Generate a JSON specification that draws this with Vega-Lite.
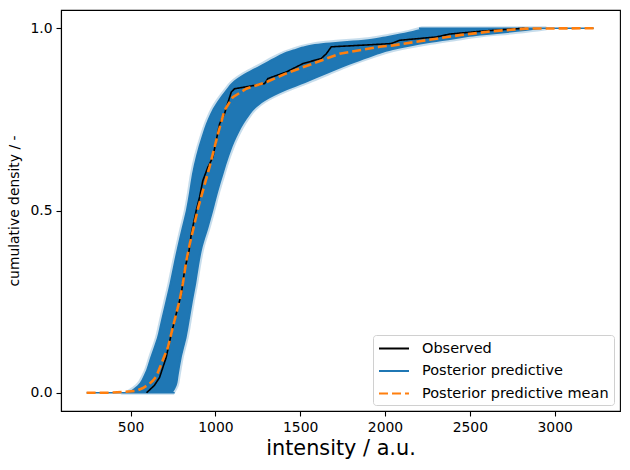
{
  "$schema": "https://vega.github.io/schema/vega-lite/v6.json",
  "width": 559,
  "height": 401,
  "autosize": {"type": "none"},
  "padding": {"left": 61, "top": 10, "right": 10, "bottom": 59},
  "background": "white",
  "config": {
    "font": "DejaVu Sans",
    "view": {"stroke": "black", "strokeWidth": 1.1},
    "axis": {
      "labelFont": "DejaVu Sans", "labelFontSize": 13.9, "labelColor": "black",
      "titleFont": "DejaVu Sans", "titleColor": "black", "titleFontWeight": "normal",
      "domainColor": "black", "tickColor": "black", "tickSize": 5, "labelPadding": 4,
      "grid": false, "domainWidth": 1.1, "tickWidth": 1.1
    },
    "legend": {"labelFont": "DejaVu Sans"}
  },
  "datasets": {
    "band": [
      {"p": 0, "lo": 480, "hi": 749},
      {"p": 0.02, "lo": 540, "hi": 772},
      {"p": 0.05, "lo": 580, "hi": 784},
      {"p": 0.1, "lo": 618, "hi": 803},
      {"p": 0.15, "lo": 655, "hi": 830},
      {"p": 0.2, "lo": 680, "hi": 849},
      {"p": 0.25, "lo": 705, "hi": 867},
      {"p": 0.3, "lo": 730, "hi": 887},
      {"p": 0.35, "lo": 752, "hi": 904},
      {"p": 0.4, "lo": 775, "hi": 925},
      {"p": 0.45, "lo": 800, "hi": 958},
      {"p": 0.5, "lo": 826, "hi": 988},
      {"p": 0.55, "lo": 845, "hi": 1016},
      {"p": 0.6, "lo": 862, "hi": 1048},
      {"p": 0.65, "lo": 886, "hi": 1082},
      {"p": 0.7, "lo": 917, "hi": 1125},
      {"p": 0.75, "lo": 955, "hi": 1185},
      {"p": 0.78, "lo": 985, "hi": 1235},
      {"p": 0.8, "lo": 1012, "hi": 1290},
      {"p": 0.83, "lo": 1060, "hi": 1420},
      {"p": 0.85, "lo": 1095, "hi": 1530},
      {"p": 0.875, "lo": 1170, "hi": 1660},
      {"p": 0.9, "lo": 1270, "hi": 1790},
      {"p": 0.92, "lo": 1350, "hi": 1909},
      {"p": 0.94, "lo": 1450, "hi": 2047},
      {"p": 0.96, "lo": 1650, "hi": 2270},
      {"p": 0.97, "lo": 1900, "hi": 2410},
      {"p": 0.98, "lo": 2030, "hi": 2560},
      {"p": 0.99, "lo": 2140, "hi": 2780},
      {"p": 1.0, "lo": 2220, "hi": 2951}
    ],
    "lines": [
      {"series": "Posterior predictive", "seg": "a", "x": 241, "p": 0},
      {"series": "Posterior predictive", "seg": "a", "x": 760, "p": 0},
      {"series": "Posterior predictive", "seg": "b", "x": 2200, "p": 1},
      {"series": "Posterior predictive", "seg": "b", "x": 3230, "p": 1},
      {"series": "Observed", "seg": "o", "x": 594, "p": 0},
      {"series": "Observed", "seg": "o", "x": 640, "p": 0.02},
      {"series": "Observed", "seg": "o", "x": 671, "p": 0.042},
      {"series": "Observed", "seg": "o", "x": 710, "p": 0.097},
      {"series": "Observed", "seg": "o", "x": 740, "p": 0.161},
      {"series": "Observed", "seg": "o", "x": 769, "p": 0.216},
      {"series": "Observed", "seg": "o", "x": 799, "p": 0.271},
      {"series": "Observed", "seg": "o", "x": 818, "p": 0.335},
      {"series": "Observed", "seg": "o", "x": 845, "p": 0.39},
      {"series": "Observed", "seg": "o", "x": 858, "p": 0.436},
      {"series": "Observed", "seg": "o", "x": 887, "p": 0.5},
      {"series": "Observed", "seg": "o", "x": 907, "p": 0.537},
      {"series": "Observed", "seg": "o", "x": 926, "p": 0.582},
      {"series": "Observed", "seg": "o", "x": 956, "p": 0.619},
      {"series": "Observed", "seg": "o", "x": 985, "p": 0.646},
      {"series": "Observed", "seg": "o", "x": 1005, "p": 0.692},
      {"series": "Observed", "seg": "o", "x": 1025, "p": 0.738},
      {"series": "Observed", "seg": "o", "x": 1054, "p": 0.766},
      {"series": "Observed", "seg": "o", "x": 1078, "p": 0.802},
      {"series": "Observed", "seg": "o", "x": 1094, "p": 0.825},
      {"series": "Observed", "seg": "o", "x": 1113, "p": 0.834},
      {"series": "Observed", "seg": "o", "x": 1290, "p": 0.848},
      {"series": "Observed", "seg": "o", "x": 1310, "p": 0.862},
      {"series": "Observed", "seg": "o", "x": 1418, "p": 0.88},
      {"series": "Observed", "seg": "o", "x": 1516, "p": 0.903},
      {"series": "Observed", "seg": "o", "x": 1624, "p": 0.917},
      {"series": "Observed", "seg": "o", "x": 1654, "p": 0.93},
      {"series": "Observed", "seg": "o", "x": 1683, "p": 0.949},
      {"series": "Observed", "seg": "o", "x": 1968, "p": 0.956},
      {"series": "Observed", "seg": "o", "x": 2037, "p": 0.958},
      {"series": "Observed", "seg": "o", "x": 2086, "p": 0.967},
      {"series": "Observed", "seg": "o", "x": 2302, "p": 0.976},
      {"series": "Observed", "seg": "o", "x": 2381, "p": 0.984},
      {"series": "Observed", "seg": "o", "x": 2597, "p": 0.993},
      {"series": "Observed", "seg": "o", "x": 2823, "p": 1.0},
      {"series": "Posterior predictive mean", "seg": "m", "x": 241, "p": 0},
      {"series": "Posterior predictive mean", "seg": "m", "x": 376, "p": 0.0},
      {"series": "Posterior predictive mean", "seg": "m", "x": 534, "p": 0.005},
      {"series": "Posterior predictive mean", "seg": "m", "x": 573, "p": 0.013},
      {"series": "Posterior predictive mean", "seg": "m", "x": 605, "p": 0.022},
      {"series": "Posterior predictive mean", "seg": "m", "x": 631, "p": 0.033},
      {"series": "Posterior predictive mean", "seg": "m", "x": 652, "p": 0.045},
      {"series": "Posterior predictive mean", "seg": "m", "x": 681, "p": 0.079},
      {"series": "Posterior predictive mean", "seg": "m", "x": 720, "p": 0.124},
      {"series": "Posterior predictive mean", "seg": "m", "x": 759, "p": 0.198},
      {"series": "Posterior predictive mean", "seg": "m", "x": 789, "p": 0.253},
      {"series": "Posterior predictive mean", "seg": "m", "x": 808, "p": 0.299},
      {"series": "Posterior predictive mean", "seg": "m", "x": 828, "p": 0.36},
      {"series": "Posterior predictive mean", "seg": "m", "x": 850, "p": 0.41},
      {"series": "Posterior predictive mean", "seg": "m", "x": 875, "p": 0.46},
      {"series": "Posterior predictive mean", "seg": "m", "x": 900, "p": 0.51},
      {"series": "Posterior predictive mean", "seg": "m", "x": 930, "p": 0.56},
      {"series": "Posterior predictive mean", "seg": "m", "x": 966, "p": 0.62},
      {"series": "Posterior predictive mean", "seg": "m", "x": 1015, "p": 0.71},
      {"series": "Posterior predictive mean", "seg": "m", "x": 1054, "p": 0.775},
      {"series": "Posterior predictive mean", "seg": "m", "x": 1103, "p": 0.811},
      {"series": "Posterior predictive mean", "seg": "m", "x": 1182, "p": 0.834},
      {"series": "Posterior predictive mean", "seg": "m", "x": 1300, "p": 0.852},
      {"series": "Posterior predictive mean", "seg": "m", "x": 1418, "p": 0.876},
      {"series": "Posterior predictive mean", "seg": "m", "x": 1575, "p": 0.903},
      {"series": "Posterior predictive mean", "seg": "m", "x": 1732, "p": 0.93},
      {"series": "Posterior predictive mean", "seg": "m", "x": 1968, "p": 0.949},
      {"series": "Posterior predictive mean", "seg": "m", "x": 2047, "p": 0.953},
      {"series": "Posterior predictive mean", "seg": "m", "x": 2243, "p": 0.967},
      {"series": "Posterior predictive mean", "seg": "m", "x": 2440, "p": 0.981},
      {"series": "Posterior predictive mean", "seg": "m", "x": 2636, "p": 0.992},
      {"series": "Posterior predictive mean", "seg": "m", "x": 2833, "p": 0.999},
      {"series": "Posterior predictive mean", "seg": "m", "x": 3230, "p": 1.0}
    ]
  },
  "layer": [
    {
      "data": {"name": "band"},
      "mark": {"type": "area", "orient": "horizontal", "color": "#1f77b4", "fillOpacity": 1, "stroke": "#1f77b4", "strokeOpacity": 0.25, "strokeWidth": 4, "interpolate": "monotone"},
      "encoding": {
        "y": {"field": "p", "type": "quantitative", "scale": {"domain": [-0.05, 1.05], "nice": false, "zero": false},
              "axis": {"values": [0, 0.5, 1], "format": ".1f", "title": "cumulative density / -", "titleFontSize": 13.9, "titlePadding": 8}},
        "x": {"field": "lo", "type": "quantitative", "scale": {"domain": [90, 3385], "nice": false, "zero": false},
              "axis": {"values": [500, 1000, 1500, 2000, 2500, 3000], "format": "d", "title": "intensity / a.u.", "titleFontSize": 20.8, "titlePadding": 5}},
        "x2": {"field": "hi"}
      }
    },
    {
      "data": {"name": "lines"},
      "mark": {"type": "line", "clip": false},
      "encoding": {
        "x": {"field": "x", "type": "quantitative"},
        "y": {"field": "p", "type": "quantitative"},
        "detail": {"field": "seg"},
        "order": {"field": "x", "type": "quantitative"},
        "color": {"field": "series", "type": "nominal",
                  "scale": {"domain": ["Observed", "Posterior predictive", "Posterior predictive mean"], "range": ["black", "#1f77b4", "#ff7f0e"]},
                  "legend": {"title": null, "orient": "none", "legendX": 312, "legendY": 325, "symbolType": "M-1,0L3,0", "symbolSize": 225,
                             "labelFontSize": 14.5, "labelColor": "black", "labelLimit": 400, "strokeColor": "#d0d0d0", "fillColor": "white", "cornerRadius": 3,
                             "padding": 5, "rowPadding": 7.5, "labelOffset": 27, "symbolStrokeWidth": 2}},
        "strokeDash": {"field": "series", "type": "nominal",
                       "scale": {"domain": ["Observed", "Posterior predictive", "Posterior predictive mean"], "range": [[1, 0], [1, 0], [9, 4]]}},
        "strokeWidth": {"condition": {"test": "datum.series === 'Posterior predictive mean'", "value": 2.6}, "value": 1.6}
      }
    }
  ]
}
